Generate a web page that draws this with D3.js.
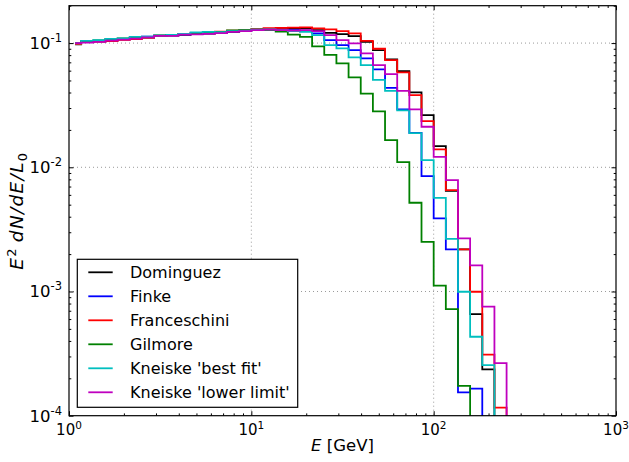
<!DOCTYPE html>
<html><head><meta charset="utf-8">
<script src="https://cdn.jsdelivr.net/npm/d3@7"></script>
<style>
body{margin:0;background:#fff}
svg{display:block}
text{font-family:"DejaVu Sans",sans-serif;fill:#000}
</style>
</head><body>
<svg id="chart" width="629" height="462"></svg>
<script>
// Bin centre energies (GeV)
const energies = [1.080,1.259,1.468,1.711,1.995,2.326,2.712,3.162,3.687,4.299,5.012,5.843,6.813,7.943,9.261,10.80,12.59,14.68,17.11,19.95,23.26,27.12,31.62,36.87,42.99,50.12,58.43,68.13,79.43,92.61,108.0,125.9,146.8,171.1,199.5,232.6,271.2];

const dominguez = [0.0976,0.1019,0.1032,0.1057,0.1071,0.1091,0.1107,0.1139,0.1149,0.1166,0.1181,0.1193,0.1210,0.1233,0.1254,0.1284,0.1301,0.1296,0.1309,0.1314,0.1273,0.1210,0.1181,0.1139,0.1024,0.0878,0.0739,0.0595,0.0401,0.0263,0.01482,0.00647,0.00218,0.000658,0.000236,0.00002,0.00002];
const finke = [0.0991,0.1028,0.1041,0.1067,0.1081,0.1118,0.1128,0.1149,0.1160,0.1177,0.1192,0.1204,0.1222,0.1245,0.1261,0.1284,0.1296,0.1284,0.1273,0.1261,0.1197,0.1057,0.0964,0.0878,0.0753,0.0614,0.0436,0.02925,0.01896,0.00849,0.00388,0.00218,0.000154,0.000165,0.00002,0.00002,0.00002];
const franceschini = [0.0981,0.1019,0.1028,0.1038,0.1061,0.1077,0.1107,0.1139,0.1166,0.1181,0.1204,0.1215,0.1238,0.1261,0.1273,0.1296,0.1321,0.1328,0.1333,0.1338,0.1314,0.1289,0.1249,0.1197,0.1043,0.0900,0.0730,0.0581,0.0381,0.02355,0.01393,0.00655,0.00218,0.000995,0.000310,0.000116,0.00002];
const gilmore = [0.1000,0.1038,0.1051,0.1081,0.1091,0.1107,0.1122,0.1153,0.1166,0.1181,0.1199,0.1210,0.1233,0.1266,0.1273,0.1284,0.1273,0.1238,0.1171,0.1124,0.0941,0.0805,0.0686,0.0529,0.0392,0.0282,0.01656,0.01101,0.00518,0.002513,0.001115,0.000722,0.000174,0.00002,0.00002,0.00002,0.00002];
const kneiskeBest = [0.0994,0.1043,0.1057,0.1081,0.1091,0.1124,0.1128,0.1149,0.1166,0.1188,0.1220,0.1233,0.1226,0.1249,0.1261,0.1284,0.1289,0.1273,0.1249,0.1233,0.1160,0.0964,0.0906,0.0767,0.0665,0.0506,0.0413,0.0287,0.01886,0.01143,0.00568,0.002656,0.000995,0.000432,0.000255,0.00002,0.00002];
const kneiskeLower = [0.1000,0.1009,0.1024,0.1047,0.1067,0.1087,0.1111,0.1143,0.1143,0.1171,0.1175,0.1188,0.1204,0.1233,0.1249,0.1273,0.1284,0.1273,0.1261,0.1273,0.1249,0.1160,0.1057,0.0994,0.0826,0.0665,0.0563,0.0413,0.02925,0.0212,0.01215,0.00789,0.002676,0.001622,0.000756,0.000265,0.00002];

const seriesNames = ["Dominguez","Finke","Franceschini","Gilmore","Kneiske 'best fit'","Kneiske 'lower limit'"];
const seriesValues = [dominguez, finke, franceschini, gilmore, kneiskeBest, kneiskeLower];
const seriesColors = ["#000000","#0000ff","#ff0000","#008000","#00bfbf","#bf00bf"];

const xTicks = [1,10,100,1000];
const xTickExp = ["0","1","2","3"];
const yTicks = [1e-4,1e-3,1e-2,1e-1];
const yTickExp = ["-4","-3","-2","-1"];

const svg = d3.select("#chart");
const L = 69, R = 616, T = 5.7, B = 415.7;
const x = d3.scaleLog().domain([1,1000]).range([L,R]);
const y = d3.scaleLog().domain([1e-4,0.2]).range([B,T]);

svg.append("defs").append("clipPath").attr("id","clip")
  .append("rect").attr("x",L).attr("y",T).attr("width",R-L).attr("height",B-T);

// grid
const grid = svg.append("g");
grid.selectAll(".gx").data(xTicks.filter(d=>d>1&&d<1000)).enter().append("line")
  .attr("x1",d=>x(d)).attr("x2",d=>x(d)).attr("y1",T).attr("y2",B)
  .attr("stroke","#9a9a9a").attr("stroke-width",1).attr("stroke-dasharray","1,3");
grid.selectAll(".gy").data(yTicks.filter(d=>d>1e-4)).enter().append("line")
  .attr("y1",d=>y(d)).attr("y2",d=>y(d)).attr("x1",L).attr("x2",R)
  .attr("stroke","#9a9a9a").attr("stroke-width",1).attr("stroke-dasharray","1,3");

// minor tick values
const xMinor = [];
[1,10,100].forEach(d=>{for(let k=2;k<10;k++) xMinor.push(d*k);});
const yMinor = [];
[1e-4,1e-3,1e-2,1e-1].forEach(d=>{for(let k=2;k<10;k++){const v=d*k; if(v<=0.2) yMinor.push(v);}});

function styleAxis(g){
  g.select(".domain").remove();
  g.selectAll(".tick line").attr("stroke","#000").attr("stroke-width",1);
  g.selectAll(".tick text").remove();
}
// major + minor ticks on all sides (inward)
svg.append("g").attr("transform",`translate(0,${B})`).call(d3.axisBottom(x).tickValues(xTicks).tickSize(-4.5).tickFormat("")).call(styleAxis);
svg.append("g").attr("transform",`translate(0,${B})`).call(d3.axisBottom(x).tickValues(xMinor).tickSize(-2.3).tickFormat("")).call(styleAxis);
svg.append("g").attr("transform",`translate(0,${T})`).call(d3.axisTop(x).tickValues(xTicks).tickSize(-4.5).tickFormat("")).call(styleAxis);
svg.append("g").attr("transform",`translate(0,${T})`).call(d3.axisTop(x).tickValues(xMinor).tickSize(-2.3).tickFormat("")).call(styleAxis);
svg.append("g").attr("transform",`translate(${L},0)`).call(d3.axisLeft(y).tickValues(yTicks).tickSize(-4.5).tickFormat("")).call(styleAxis);
svg.append("g").attr("transform",`translate(${L},0)`).call(d3.axisLeft(y).tickValues(yMinor).tickSize(-2.3).tickFormat("")).call(styleAxis);
svg.append("g").attr("transform",`translate(${R},0)`).call(d3.axisRight(y).tickValues(yTicks).tickSize(-4.5).tickFormat("")).call(styleAxis);
svg.append("g").attr("transform",`translate(${R},0)`).call(d3.axisRight(y).tickValues(yMinor).tickSize(-2.3).tickFormat("")).call(styleAxis);

// data step lines
const line = d3.line().x(d=>x(d[0])).y(d=>y(d[1])).curve(d3.curveStep);
const plot = svg.append("g").attr("clip-path","url(#clip)");
seriesValues.forEach((vals,i)=>{
  plot.append("path").datum(energies.map((e,j)=>[e,vals[j]]))
    .attr("d",line).attr("fill","none").attr("stroke",seriesColors[i])
    .attr("stroke-width",1.8).attr("stroke-linejoin","miter");
});

// frame
svg.append("rect").attr("x",L).attr("y",T).attr("width",R-L).attr("height",B-T)
  .attr("fill","none").attr("stroke","#000").attr("stroke-width",1.2);

// tick labels
xTicks.forEach((t,i)=>{
  const tx = svg.append("text").attr("x",x(t)).attr("y",B+19.5).attr("text-anchor","middle").attr("font-size",15);
  tx.append("tspan").text("10");
  tx.append("tspan").attr("font-size",10.5).attr("dy",-6.5).text(xTickExp[i]);
});
yTicks.forEach((t,i)=>{
  const ty = svg.append("text").attr("x",L-7).attr("y",y(t)+6).attr("text-anchor","end").attr("font-size",16.5);
  ty.append("tspan").text("10");
  ty.append("tspan").attr("font-size",11.5).attr("dy",-7).text(yTickExp[i]);
});

// axis labels
const xl = svg.append("text").attr("x",(L+R)/2).attr("y",451).attr("text-anchor","middle").attr("font-size",16.5);
xl.append("tspan").attr("font-style","italic").text("E");
xl.append("tspan").text(" [GeV]");

const yl = svg.append("text").attr("transform",`translate(23,${(T+B)/2}) rotate(-90)`).attr("text-anchor","middle").attr("font-size",18.5).attr("letter-spacing",1.3);
yl.append("tspan").attr("font-style","italic").text("E");
yl.append("tspan").attr("font-size",13).attr("dy",-7.5).text("2");
yl.append("tspan").attr("font-style","italic").attr("dy",7.5).text("\u2009dN/dE/L");
yl.append("tspan").attr("font-size",13).attr("dy",4).text("0");

// legend
const lg = svg.append("g");
lg.append("rect").attr("x",77.3).attr("y",259.3).attr("width",220.4).attr("height",148)
  .attr("fill","#fff").attr("stroke","#000").attr("stroke-width",1.2);
seriesNames.forEach((n,i)=>{
  const yy = 272.3 + i*24;
  lg.append("line").attr("x1",88.3).attr("x2",112.7).attr("y1",yy).attr("y2",yy)
    .attr("stroke",seriesColors[i]).attr("stroke-width",1.8);
  lg.append("text").attr("x",130).attr("y",yy+5.8).attr("font-size",16).text(n);
});
</script>
</body></html>
